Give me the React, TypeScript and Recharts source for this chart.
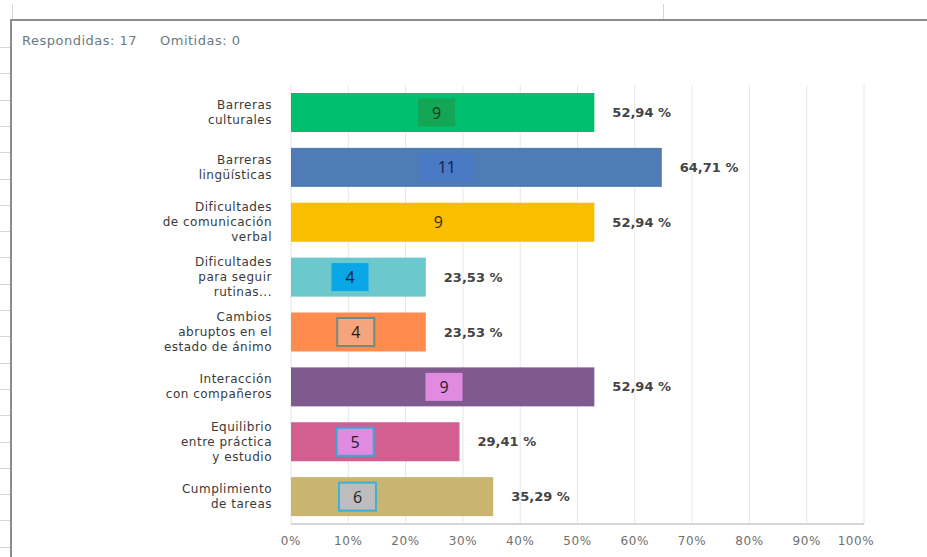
import React from 'react';
import { BarChart, Bar, XAxis, YAxis, CartesianGrid } from 'recharts';

const categories = [
  'Barreras\nculturales',
  'Barreras\nlingüísticas',
  'Dificultades\nde comunicación\nverbal',
  'Dificultades\npara seguir\nrutinas...',
  'Cambios\nabruptos en el\nestado de ánimo',
  'Interacción\ncon compañeros',
  'Equilibrio\nentre práctica\ny estudio',
  'Cumplimiento\nde tareas',
];
const counts = [9, 11, 9, 4, 4, 9, 5, 6];
const percents = [52.94, 64.71, 52.94, 23.53, 23.53, 52.94, 29.41, 35.29];
const xTicks = [0, 10, 20, 30, 40, 50, 60, 70, 80, 90, 100];
const respondidas = 17;
const omitidas = 0;

const barColors = ['#00bf6f', '#507cb6', '#f9be00', '#6bc8cd', '#ff8b4f', '#7f5a8f', '#d25f90', '#c9b56f'];
// annotation badges (style only): center in axis units, fill, stroke, text color
const badgeStyles = [
  { at: 25.4, fill: '#13a655', stroke: 'none', text: '#173a1e' },
  { at: 27.2, fill: '#4a79c6', stroke: 'none', text: '#12204a' },
  { at: 25.7, fill: '#f9be00', stroke: 'none', text: '#3a2a00' },
  { at: 10.3, fill: '#0aa6e6', stroke: 'none', text: '#13263e' },
  { at: 11.3, fill: '#f4a57e', stroke: '#6f8a80', text: '#2a1a10' },
  { at: 26.7, fill: '#e08be0', stroke: 'none', text: '#2a1a2a' },
  { at: 11.2, fill: '#e08be0', stroke: '#3aa8d8', text: '#2a1a2a' },
  { at: 11.6, fill: '#bdbdbd', stroke: '#3ab2d8', text: '#222222' },
];

const data = categories.map((name, i) => ({ name, pct: percents[i], count: counts[i], idx: i }));

const FONT = '"DejaVu Sans", "Open Sans", sans-serif';
const BADGE_FONT = '"Open Sans", "Liberation Sans", sans-serif';

const CatTick = (props: any) => {
  const { x, y, payload } = props;
  const lines = String(payload.value).split('\n');
  const lh = 15;
  const start = -((lines.length - 1) / 2) * lh;
  return (
    <g>
      {lines.map((l, i) => (
        <text
          key={i}
          x={x}
          y={y + start + i * lh}
          textAnchor="end"
          dominantBaseline="central"
          fontFamily={FONT}
          fontSize={12}
          letterSpacing={0.5}
          fill="#3a3a3a"
        >
          {l}
        </text>
      ))}
    </g>
  );
};

const PctTick = (props: any) => {
  const { x, y, payload } = props;
  const dx = payload.value === 100 ? -8 : 0;
  return (
    <text
      x={x + dx}
      y={y}
      dy={9}
      textAnchor="middle"
      dominantBaseline="central"
      fontFamily={FONT}
      fontSize={12}
      letterSpacing={0.6}
      fill="#6f6f6f"
    >
      {payload.value}%
    </text>
  );
};

const BarShape = (props: any) => {
  const { x, y, width, height, payload } = props;
  const i = payload.idx;
  const st = badgeStyles[i];
  const pxPer = width / payload.pct;
  const cx = x + st.at * pxPer;
  const label = String(payload.count);
  const bw = label.length > 1 ? 54 : 37;
  const bh = 28;
  const cy = y + height / 2;
  return (
    <g>
      <rect x={x} y={y} width={width} height={height} fill={barColors[i]} />
      <rect
        x={cx - bw / 2}
        y={cy - bh / 2}
        width={bw}
        height={bh}
        fill={st.fill}
        stroke={st.stroke}
        strokeWidth={st.stroke === 'none' ? 0 : 2}
      />
      <text x={cx} y={cy} textAnchor="middle" dominantBaseline="central" fontFamily={BADGE_FONT} fontSize={16} fill={st.text}>
        {label}
      </text>
      <text x={x + width + 18} y={cy} dominantBaseline="central" fontFamily={FONT} fontSize={13} fontWeight={600} fill="#444">
        {payload.pct.toFixed(2).replace('.', ',')} %
      </text>
    </g>
  );
};

const leftRules = Array.from({ length: 20 }, (_, k) => 47 + k * 26.3);

export default function App() {
  return (
    <div style={{ position: 'absolute', left: 0, top: 0, width: 927, height: 557, background: '#fff', overflow: 'hidden' }}>
      {leftRules.map((t, k) => (
        <div key={k} style={{ position: 'absolute', left: 0, top: t, width: 11, height: 1, background: '#d6d6d6' }} />
      ))}
      <div style={{ position: 'absolute', left: 12, top: 4, width: 1, height: 16, background: '#d6d6d6' }} />
      <div style={{ position: 'absolute', left: 663, top: 4, width: 1, height: 16, background: '#d6d6d6' }} />
      <div style={{ position: 'absolute', left: 11, top: 19, width: 916, height: 2, background: '#8c8c8c' }} />
      <div style={{ position: 'absolute', left: 10, top: 19, width: 2, height: 538, background: '#8c8c8c' }} />
      <div
        style={{
          position: 'absolute',
          left: 22,
          top: 33,
          fontFamily: FONT,
          fontSize: 13,
          letterSpacing: 0.5,
          color: '#6b7a80',
          whiteSpace: 'pre',
        }}
      >
        {`Respondidas: ${respondidas}`}
      </div>
      <div
        style={{
          position: 'absolute',
          left: 160,
          top: 33,
          fontFamily: FONT,
          fontSize: 13,
          letterSpacing: 0.5,
          color: '#6b7a80',
          whiteSpace: 'pre',
        }}
      >
        {`Omitidas: ${omitidas}`}
      </div>
      <div style={{ position: 'absolute', left: 0, top: 0 }}>
        <BarChart
          width={927}
          height={557}
          data={data}
          layout="vertical"
          margin={{ top: 85, right: 63, bottom: 3, left: 0 }}
        >
          <CartesianGrid horizontal={false} stroke="#e6e6e6" />
          <XAxis
            type="number"
            domain={[0, 100]}
            ticks={xTicks}
            tick={<PctTick />}
            tickLine={false}
            axisLine={{ stroke: '#d6d6d6', strokeWidth: 2 }}
            height={30}
            tickMargin={2}
            interval={0}
          />
          <YAxis
            type="category"
            dataKey="name"
            width={291}
            tick={<CatTick />}
            tickLine={false}
            axisLine={false}
            tickMargin={13}
            interval={0}
          />
          <Bar dataKey="pct" barSize={39} shape={<BarShape />} isAnimationActive={false} />
        </BarChart>
      </div>
    </div>
  );
}
